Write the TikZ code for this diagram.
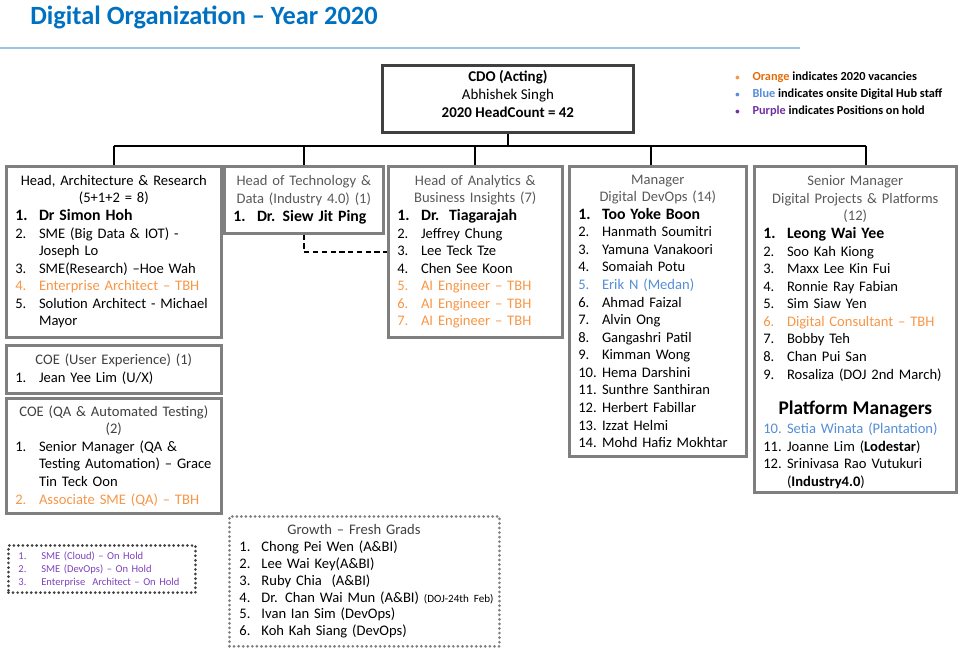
\documentclass[tikz,border=0pt]{standalone}
\usepackage{fontspec}
\setmainfont{Carlito}
\usetikzlibrary{positioning,calc}

\definecolor{ttlblue}{RGB}{0,112,192}
\definecolor{rulecol}{RGB}{157,195,230}
\definecolor{vacorange}{RGB}{247,150,70}
\definecolor{legorange}{RGB}{228,108,10}
\definecolor{hubblue}{RGB}{85,142,213}
\definecolor{holdpurple}{RGB}{112,48,160}
\definecolor{holdtext}{RGB}{125,65,190}
\definecolor{hdgray}{RGB}{89,89,89}
\definecolor{hddark}{RGB}{64,64,64}
\definecolor{boxgray}{RGB}{127,127,127}
\definecolor{cdogray}{RGB}{64,64,64}

% list helpers
\newcommand{\hd}[1]{\makebox[\linewidth]{#1}}
\newcommand{\hdg}[1]{\makebox[\linewidth]{\color{hdgray}#1}}
\newcommand{\hdd}[1]{\makebox[\linewidth]{\color{hddark}#1}}
\newcommand{\nb}[2]{\makebox[13.5pt][l]{#1}#2}
\newcommand{\cn}[1]{\hspace*{13.5pt}#1}
\newcommand{\first}[2]{{\fontsize{9}{10}\selectfont\bfseries\nb{#1}{#2}}}

\begin{document}
\begin{tikzpicture}[
    x=0.02cm, y=-0.02cm,
    orgbox/.style={draw=boxgray, line width=1.5pt, anchor=north west, align=left,
        inner xsep=0.18cm, inner ysep=0pt, font=\fontsize{8.3}{10}\selectfont},
    cdobox/.style={draw=cdogray, line width=1.6pt, anchor=north west, align=center,
        inner sep=0pt, font=\fontsize{8.5}{10.2}\selectfont},
    dotbox/.style={draw=boxgray, line width=1.7pt, dash pattern=on 0pt off 2.6pt,
        line cap=round, anchor=north west, align=left, inner xsep=0.2cm},
    conn/.style={line width=1.1pt},
    dlink/.style={line width=1.1pt, dash pattern=on 3pt off 2pt}
]
    \useasboundingbox (0,0) rectangle (960,656);

    % Title and rule
    \node[anchor=west, inner sep=0pt, text=ttlblue, font=\fontsize{15}{16}\selectfont\bfseries]
        (title) at (30,17) {Digital Organization -- Year 2020};
    \draw[rulecol, line width=0.6pt] (0,48) -- (800,48);

    % CDO
    \node[cdobox, minimum width=5.02cm, minimum height=1.34cm] (cdo) at (381,64)
        {\textbf{CDO (Acting)}\\ Abhishek Singh\\ \textbf{2020 HeadCount = 42}\rule[-6pt]{0pt}{0pt}};

    % Legend
    \node[anchor=west, align=left, inner sep=0pt, font=\fontsize{7}{9.6}\selectfont\bfseries]
        (legend) at (735,94)
        {\makebox[9.8pt][l]{\color{vacorange}\tiny\textbullet}{\color{legorange}Orange} indicates 2020 vacancies\\
         \makebox[9.8pt][l]{\color{hubblue}\tiny\textbullet}{\color{hubblue}Blue} indicates onsite Digital Hub staff\\
         \makebox[9.8pt][l]{\color{holdpurple}\tiny\textbullet}{\color{holdpurple}Purple} indicates Positions on hold};

    % Heads (top row)
    \node[orgbox, text width=3.94cm, minimum height=3.42cm] (arch) at (5,165)
        {\hd{Head, Architecture \& Research}\\
         \hd{(5+1+2 = 8)}\\
         \first{1.}{Dr Simon Hoh}\\
         \nb{2.}{SME (Big Data \& IOT) -}\\
         \cn{Joseph Lo}\\
         \nb{3.}{SME(Research) --Hoe Wah}\\
         {\color{vacorange}\nb{4.}{Enterprise Architect -- TBH}}\\
         \nb{5.}{Solution Architect - Michael}\\
         \cn{Mayor}};
    \node[orgbox, text width=2.82cm, minimum height=1.34cm] (tech) at (223,165)
        {\hdg{Head of Technology \&}\\
         \hdg{Data (Industry 4.0) (1)}\\
         \first{1.}{Dr. Siew Jit Ping}};
    \node[orgbox, text width=3.12cm, minimum height=3.42cm] (ana) at (387,165)
        {\hdg{Head of Analytics \&}\\
         \hdg{Business Insights (7)}\\
         \first{1.}{Dr.\ \ Tiagarajah}\\
         \nb{2.}{Jeffrey Chung}\\
         \nb{3.}{Lee Teck Tze}\\
         \nb{4.}{Chen See Koon}\\
         {\color{vacorange}\nb{5.}{AI Engineer -- TBH}}\\
         {\color{vacorange}\nb{6.}{AI Engineer -- TBH}}\\
         {\color{vacorange}\nb{7.}{AI Engineer -- TBH}}};
    \node[orgbox, text width=3.18cm, minimum height=5.80cm] (devops) at (568,165)
        {\hdg{Manager}\\
         \hdg{Digital DevOps (14)}\\
         \first{1.}{Too Yoke Boon}\\
         \nb{2.}{Hanmath Soumitri}\\
         \nb{3.}{Yamuna Vanakoori}\\
         \nb{4.}{Somaiah Potu}\\
         {\color{hubblue}\nb{5.}{Erik N (Medan)}}\\
         \nb{6.}{Ahmad Faizal}\\
         \nb{7.}{Alvin Ong}\\
         \nb{8.}{Gangashri Patil}\\
         \nb{9.}{Kimman Wong}\\
         \nb{10.}{Hema Darshini}\\
         \nb{11.}{Sunthre Santhiran}\\
         \nb{12.}{Herbert Fabillar}\\
         \nb{13.}{Izzat Helmi}\\
         \nb{14.}{Mohd Hafiz Mokhtar}};
    \node[orgbox, text width=3.68cm, minimum height=6.52cm] (plat) at (753,165)
        {\rule{0pt}{9pt}\hdg{Senior Manager}\\
         \hdg{Digital Projects \& Platforms}\\
         \hdg{(12)}\\
         \first{1.}{Leong Wai Yee}\\
         \nb{2.}{Soo Kah Kiong}\\
         \nb{3.}{Maxx Lee Kin Fui}\\
         \nb{4.}{Ronnie Ray Fabian}\\
         \nb{5.}{Sim Siaw Yen}\\
         {\color{vacorange}\nb{6.}{Digital Consultant -- TBH}}\\
         \nb{7.}{Bobby Teh}\\
         \nb{8.}{Chan Pui San}\\
         \nb{9.}{Rosaliza (DOJ 2nd March)}\\[10pt]
         {\fontsize{11}{12}\selectfont\bfseries\hd{Platform Managers}}\\[1pt]
         {\color{hubblue}\nb{10.}{Setia Winata (Plantation)}}\\
         \nb{11.}{Joanne Lim (\textbf{Lodestar})}\\
         \nb{12.}{Srinivasa Rao Vutukuri}\\
         \cn{(\textbf{Industry4.0})}};

    % COE boxes
    \node[orgbox, text width=3.94cm, minimum height=0.96cm] (ux) at (5,344)
        {\hdd{COE (User Experience) (1)}\\
         \nb{1.}{Jean Yee Lim (U/X)}};
    \node[orgbox, text width=3.94cm, minimum height=2.30cm] (qa) at (5,397)
        {\hdd{COE (QA \& Automated Testing)}\\
         \hdd{(2)}\\
         \nb{1.}{Senior Manager (QA \&}\\
         \cn{Testing Automation) -- Grace}\\
         \cn{Tin Teck Oon}\\
         {\color{vacorange}\nb{2.}{Associate SME (QA) -- TBH}}};

    % On hold and fresh grads
    \node[dotbox, draw=hddark, text width=3.34cm, minimum height=0.94cm, text=holdtext,
          font=\fontsize{6}{7.4}\selectfont] (hold) at (7,544)
        {\makebox[13pt][l]{1.}SME (Cloud) -- On Hold\\
         \makebox[13pt][l]{2.}SME (DevOps) -- On Hold\\
         \makebox[13pt][l]{3.}Enterprise\ \ Architect -- On Hold};
    \node[dotbox, text width=5.0cm, inner ysep=0.16cm,
          font=\fontsize{8.3}{9.6}\selectfont] (grads) at (228,515)
        {\hdd{\hspace*{-12pt}Growth -- Fresh Grads}\\
         \makebox[12.5pt][l]{1.}Chong Pei Wen (A\&BI)\\
         \makebox[12.5pt][l]{2.}Lee Wai Key(A\&BI)\\
         \makebox[12.5pt][l]{3.}Ruby Chia\ \ (A\&BI)\\
         \mbox{\makebox[12.5pt][l]{4.}Dr. Chan Wai Mun (A\&BI) {\fontsize{6.3}{9}\selectfont(DOJ-24th Feb)}}\\
         \makebox[12.5pt][l]{5.}Ivan Ian Sim (DevOps)\\
         \makebox[12.5pt][l]{6.}Koh Kah Siang (DevOps)\par\vspace*{40pt}};

    % Connectors
    \coordinate (bus) at (508,146);
    \draw[conn] (cdo.south) -- (cdo.south |- bus);
    \draw[conn] (arch.north |- bus) -- ([xshift=0.22cm]plat.north |- bus);
    \draw[conn] (arch.north) -- (arch.north |- bus);
    \draw[conn] (tech.north) -- (tech.north |- bus);
    \draw[conn] (ana.north) -- (ana.north |- bus);
    \draw[conn] ([xshift=-0.14cm]devops.north) -- ([xshift=-0.14cm]devops.north |- bus);
    \draw[conn] ([xshift=0.22cm]plat.north) -- ([xshift=0.22cm]plat.north |- bus);
    \draw[dlink] (tech.south) |- (ana.west);
\end{tikzpicture}
\end{document}
